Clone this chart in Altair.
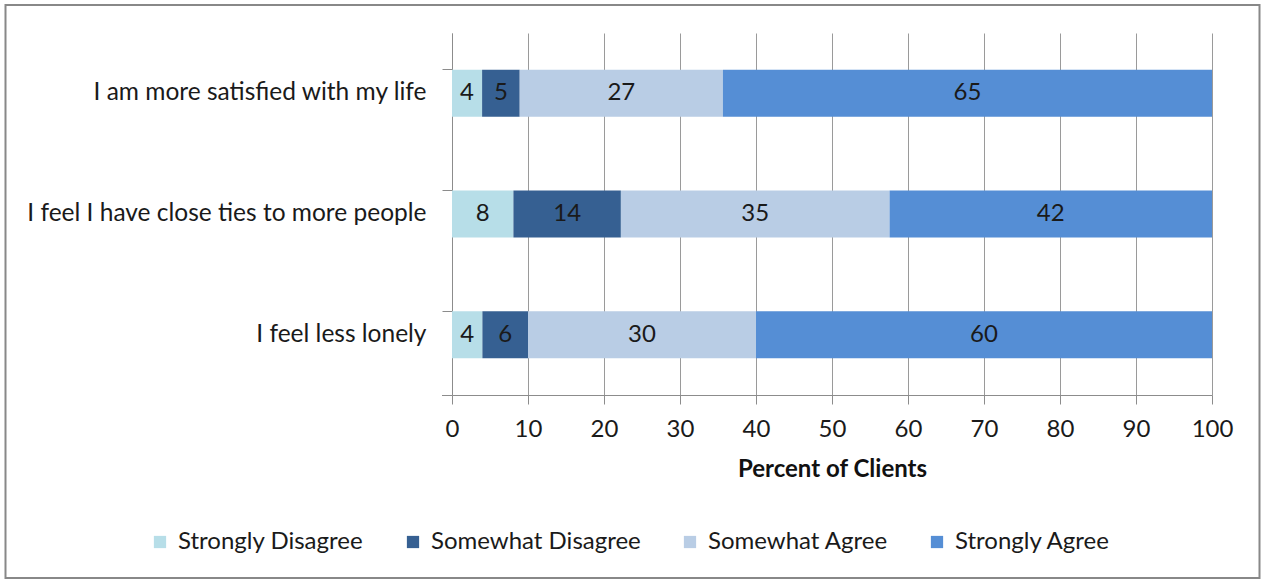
import altair as alt
import pandas as pd

statements = [
    "I am more satisfied with my life",
    "I feel I have close ties to more people",
    "I feel less lonely",
]
responses = ["Strongly Disagree", "Somewhat Disagree", "Somewhat Agree", "Strongly Agree"]
colors = ["#B7DEE8", "#366092", "#B9CDE5", "#558ED5"]

strongly_disagree = [4, 8, 4]
somewhat_disagree = [5, 14, 6]
somewhat_agree = [27, 35, 30]
strongly_agree = [65, 42, 60]

series = [strongly_disagree, somewhat_disagree, somewhat_agree, strongly_agree]
rows = []
for ri, (resp, vals) in enumerate(zip(responses, series)):
    for s, v in zip(statements, vals):
        rows.append({"statement": s, "response": resp, "order": ri, "value": v})
df = pd.DataFrame(rows)

FONT = "Lato"
FS = 24
W, H = 760, 362
PAD_L, PAD_T = 452, 33

base = (
    alt.Chart(df)
    .transform_joinaggregate(total="sum(value)", groupby=["statement"])
    .transform_calculate(pct="datum.value / datum.total * 100")
    .transform_stack(stack="pct", groupby=["statement"], sort=[alt.SortField("order")], as_=["x0", "x1"])
    .transform_calculate(mid="(datum.x0 + datum.x1) / 2")
)

yenc = alt.Y(
    "statement:N",
    sort=statements,
    scale=alt.Scale(paddingInner=0.61, paddingOuter=0.305),
    axis=alt.Axis(
        title=None,
        bandPosition=0,
        labelFont=FONT,
        labelFontSize=24.5,
        labelColor="#1a1a1a",
        labelPadding=16,
        labelLimit=0,
        tickSize=10,
        tickColor="#8c8c8c",
        domainColor="#8c8c8c",
        grid=False,
    ),
)

bars = base.mark_bar().encode(
    x=alt.X(
        "x0:Q",
        scale=alt.Scale(domain=[0, 100], nice=False),
        axis=alt.Axis(
            title="Percent of Clients",
            values=list(range(0, 101, 10)),
            labelFont=FONT,
            labelFontSize=FS,
            labelColor="#1a1a1a",
            labelPadding=13,
            labelFlush=False,
            tickSize=9,
            tickColor="#8c8c8c",
            domainColor="#8c8c8c",
            gridColor="#9a9a9a",
            grid=True,
            titleFont=FONT,
            titleFontSize=FS,
            titleFontWeight="bold",
            titleColor="#111111",
            titlePadding=16,
        ),
    ),
    x2="x1:Q",
    y=yenc,
    color=alt.Color(
        "response:N",
        sort=responses,
        scale=alt.Scale(domain=responses, range=colors),
        legend=alt.Legend(
            title=None,
            orient="none",
            direction="horizontal",
            legendX=-304,
            legendY=497,
            symbolType="square",
            symbolSize=150,
            symbolStrokeWidth=0,
            symbolOpacity=1,
            labelFont=FONT,
            labelFontSize=FS,
            labelColor="#1a1a1a",
            labelOffset=6,
            labelLimit=0,
            columnPadding=37,
        ),
    ),
    order=alt.Order("order:Q"),
)

labels = base.mark_text(font=FONT, fontSize=FS, color="#1a1a1a").encode(
    x=alt.X("mid:Q"),
    y=alt.Y("statement:N", sort=statements),
    text=alt.Text("value:Q"),
)

deco = pd.DataFrame({"a": [0]})
border = alt.Chart(deco).mark_rect(fill=None, stroke="#888888", strokeWidth=2).encode(
    x=alt.value(-446.5), x2=alt.value(807.5), y=alt.value(-28), y2=alt.value(545)
)
corner_tick = alt.Chart(deco).mark_rule(color="#8c8c8c").encode(
    x=alt.value(-10), x2=alt.value(0), y=alt.value(H + 0.5)
)

chart = (
    alt.layer(border, bars, labels, corner_tick)
    .properties(
        width=W,
        height=H,
        autosize=alt.AutoSizeParams(type="none"),
        padding={"left": PAD_L, "top": PAD_T, "right": 1262 - PAD_L - W, "bottom": 582 - PAD_T - H},
        background="white",
    )
    .configure_view(stroke=None)
)

chart.save("out.html", embed_options={"renderer": "svg", "actions": False})
